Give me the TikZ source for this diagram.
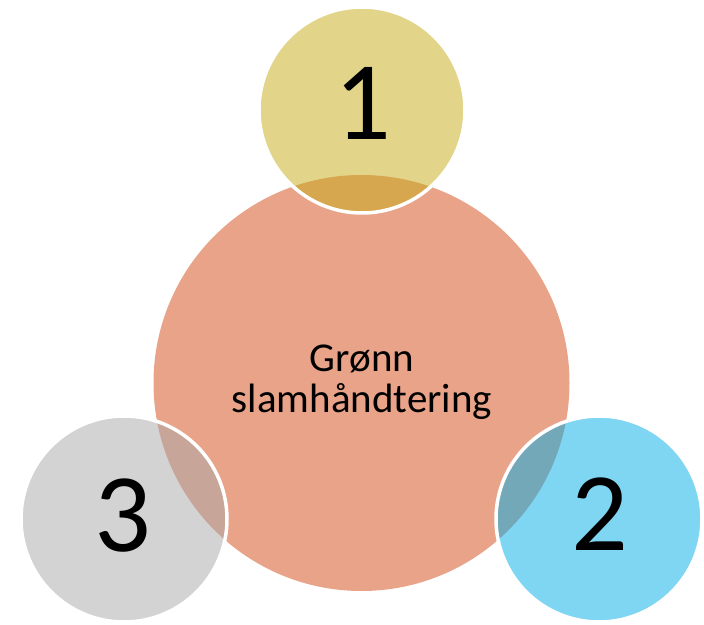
\documentclass[tikz,border=0pt]{standalone}
\usepackage{fontspec}
\setmainfont{Carlito}
\definecolor{hubfill}{RGB}{232,163,137}
\definecolor{goldfill}{RGB}{197,171,21}
\definecolor{skyfill}{RGB}{0,173,231}
\definecolor{stonefill}{RGB}{167,167,167}
\tikzset{
  hub/.style={circle, fill=hubfill, draw=none, inner sep=0pt, minimum size=416pt},
  satellite/.style={circle, fill opacity=0.5, draw=white, draw opacity=1, line width=3.5pt, inner sep=0pt, minimum size=206pt},
  numeral/.style={font=\fontsize{112}{118}\selectfont, text=black, anchor=base, inner sep=0pt},
  hublabel/.style={font=\fontsize{41}{41}\selectfont, text=black, align=center, anchor=base, inner sep=0pt}
}
\begin{document}
\begin{tikzpicture}[x=1pt, y=1pt]
  \useasboundingbox (0,0) rectangle (704,624);
  % central circle
  \node[hub] (hub) at (361.5,241) {};
  % three overlapping satellites
  \node[satellite, fill=goldfill] (one) at (362,514) {};
  \node[satellite, fill=stonefill] (three) at (124,105) {};
  \node[satellite, fill=skyfill] (two) at (599,105) {};
  % labels (base anchor sits on the last line)
  \node[hublabel] (title) at (362,211) {Grønn\\slamhåndtering};
  \node[numeral] (n1) at (363,484) {1};
  \node[numeral] (n3) at (123,73) {3};
  \node[numeral] (n2) at (600,74) {2};
\end{tikzpicture}
\end{document}
